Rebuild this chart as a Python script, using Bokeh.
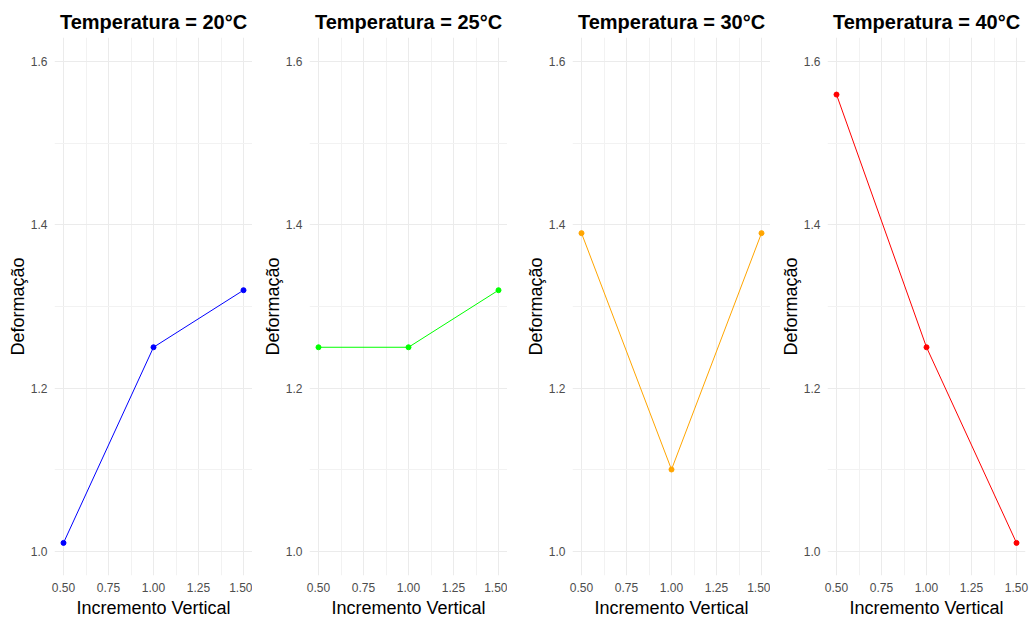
from bokeh.plotting import figure
from bokeh.layouts import row
from bokeh.models import FixedTicker, NumeralTickFormatter, Range1d
from bokeh.embed import file_html
from bokeh.resources import INLINE

temps = ["20", "25", "30", "40"]
x_vals = [0.5, 1.0, 1.5]
y_20 = [1.01, 1.25, 1.32]
y_25 = [1.25, 1.25, 1.32]
y_30 = [1.39, 1.10, 1.39]
y_40 = [1.56, 1.25, 1.01]
series = [y_20, y_25, y_30, y_40]
colors = ["#0000FF", "#00FF00", "#FFA500", "#FF0000"]
x_ticks = [0.5, 0.75, 1.0, 1.25, 1.5]
x_minor = [0.625, 0.875, 1.125, 1.375]
y_ticks = [1.0, 1.2, 1.4, 1.6]
y_minor = [1.1, 1.3, 1.5]

left_borders = [54, 57, 65, 57]
right_borders = [0, 0, 0, 4]

figs = []
for t, ys, c, lb, rb in zip(temps, series, colors, left_borders, right_borders):
    p = figure(frame_width=198, frame_height=538, output_backend="svg",
               toolbar_location=None, x_range=Range1d(0.45, 1.55),
               y_range=Range1d(0.97, 1.63),
               min_border_left=lb, min_border_right=rb, min_border_top=37,
               min_border_bottom=44, title=f"Temperatura = {t}°C")
    p.outline_line_color = None
    p.background_fill_color = "white"
    p.title.align = "center"
    p.title.text_font = "Liberation Sans"
    p.title.text_font_style = "bold"
    p.title.text_font_size = "20px"
    p.title.text_color = "black"
    p.title.offset = 0
    p.xaxis.ticker = FixedTicker(ticks=x_ticks, minor_ticks=x_minor)
    p.yaxis.ticker = FixedTicker(ticks=y_ticks, minor_ticks=y_minor)
    p.xaxis.formatter = NumeralTickFormatter(format="0.00")
    p.yaxis.formatter = NumeralTickFormatter(format="0.0")
    for ax in (p.xaxis, p.yaxis):
        ax.axis_line_color = None
        ax.major_tick_line_color = None
        ax.minor_tick_line_color = None
        ax.major_tick_out = 0
        ax.major_tick_in = 0
        ax.minor_tick_out = 0
        ax.minor_tick_in = 0
        ax.major_label_text_font = "Liberation Sans"
        ax.major_label_text_font_size = "12px"
        ax.major_label_text_color = "#4D4D4D"
        ax.axis_label_text_font = "Liberation Sans"
        ax.axis_label_text_font_size = "18px"
        ax.axis_label_text_font_style = "normal"
        ax.axis_label_text_color = "black"
    p.xaxis.major_label_standoff = 7
    p.xaxis.axis_label_standoff = 3
    p.yaxis.major_label_standoff = 7
    p.yaxis.axis_label_standoff = 0
    p.xaxis.axis_label = "Incremento Vertical"
    p.yaxis.axis_label = "Deformação"
    for g in (p.xgrid, p.ygrid):
        g.grid_line_color = "#EBEBEB"
        g.grid_line_width = 1
        g.minor_grid_line_color = "#F2F2F2"
        g.minor_grid_line_width = 1
    p.line(x_vals, ys, line_color=c, line_width=1)
    p.scatter(x_vals, ys, fill_color=c, line_color=c, size=5)
    figs.append(p)

layout = row(*figs, spacing=0)
open("out.html", "w").write(file_html(layout, INLINE))
